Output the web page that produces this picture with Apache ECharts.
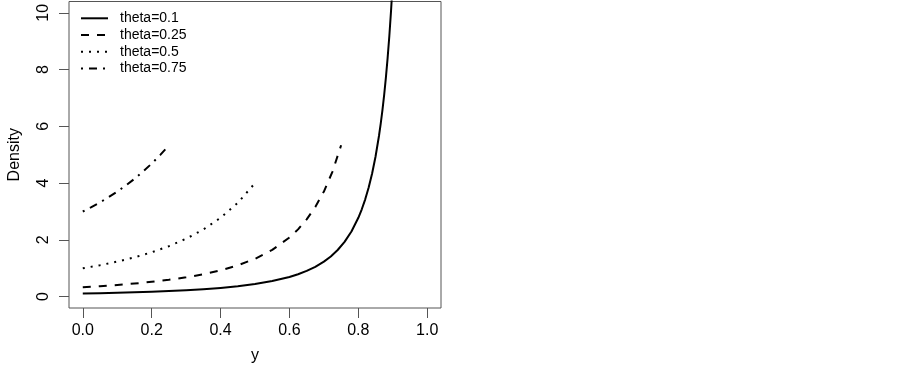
<!DOCTYPE html>
<html>
<head>
<meta charset="utf-8">
<script src="https://cdn.jsdelivr.net/npm/echarts@6/dist/echarts.min.js"></script>
<style>
html,body{margin:0;padding:0;background:#fff;}
#chart{width:903px;height:369px;}
</style>
</head>
<body>
<div id="chart"></div>
<script>
// Data
var seriesNames = ['theta=0.1', 'theta=0.25', 'theta=0.5', 'theta=0.75'];

var y_t01 = [0, 0.05, 0.10, 0.15, 0.20, 0.25, 0.30, 0.35, 0.40, 0.45, 0.50, 0.55, 0.60, 0.625, 0.65, 0.675, 0.70, 0.72, 0.74, 0.76, 0.78, 0.80, 0.81, 0.82, 0.83, 0.84, 0.85, 0.86, 0.865, 0.87, 0.875, 0.88, 0.885, 0.89, 0.895, 0.90];
var d_t01 = [0.111, 0.123, 0.137, 0.154, 0.174, 0.198, 0.227, 0.263, 0.309, 0.367, 0.444, 0.549, 0.694, 0.790, 0.907, 1.052, 1.235, 1.417, 1.644, 1.929, 2.296, 2.778, 3.078, 3.429, 3.845, 4.340, 4.938, 5.669, 6.097, 6.575, 7.111, 7.716, 8.402, 9.183, 10.078, 11.111];

var y_t025 = [0, 0.05, 0.10, 0.15, 0.20, 0.25, 0.30, 0.35, 0.40, 0.45, 0.50, 0.55, 0.60, 0.625, 0.65, 0.675, 0.70, 0.725, 0.75];
var d_t025 = [0.333, 0.369, 0.412, 0.461, 0.521, 0.593, 0.680, 0.789, 0.926, 1.102, 1.333, 1.646, 2.083, 2.370, 2.721, 3.156, 3.704, 4.408, 5.333];

var y_t05 = [0, 0.05, 0.10, 0.15, 0.20, 0.25, 0.30, 0.35, 0.40, 0.45, 0.50];
var d_t05 = [1.000, 1.108, 1.235, 1.384, 1.563, 1.778, 2.041, 2.367, 2.778, 3.306, 4.000];

var y_t075 = [0, 0.025, 0.05, 0.075, 0.10, 0.125, 0.15, 0.175, 0.20, 0.225, 0.25];
var d_t075 = [3.000, 3.156, 3.324, 3.506, 3.704, 3.918, 4.152, 4.408, 4.688, 4.995, 5.333];

var xTicks = [0, 0.2, 0.4, 0.6, 0.8, 1.0];
var yTicks = [0, 2, 4, 6, 8, 10];

function pairs(xs, ys) {
  return xs.map(function (x, i) { return [x, ys[i]]; });
}

var dashes = ['solid', [8, 8], [2, 6], [2, 6, 8, 6]];
var xsAll = [y_t01, y_t025, y_t05, y_t075];
var ysAll = [d_t01, d_t025, d_t05, d_t075];

var FONT = 'Liberation Sans, Arial, Helvetica, sans-serif';
var chart = echarts.init(document.getElementById('chart'), null, {renderer: 'canvas'});

var series = seriesNames.map(function (name, i) {
  return {
    name: name,
    type: 'line',
    data: pairs(xsAll[i], ysAll[i]),
    symbol: 'none',
    smooth: false,
    clip: true,
    color: '#000',
    lineStyle: {color: '#000', width: 2, type: dashes[i], cap: 'butt', join: 'round'}
  };
});

chart.setOption({
  animation: false,
  backgroundColor: '#fff',
  textStyle: {fontFamily: FONT},
  grid: {
    left: 69, top: 1.5, width: 372, height: 308,
    show: true, borderColor: '#555', borderWidth: 1, backgroundColor: 'transparent'
  },
  legend: {
    show: true,
    orient: 'vertical',
    left: 80, top: 11.3,
    padding: 0,
    itemWidth: 27, itemHeight: 14, itemGap: 2.7,
    itemStyle: {color: 'rgba(0,0,0,0)', borderColor: 'rgba(0,0,0,0)', borderWidth: 0, opacity: 0},
    lineStyle: {width: 2},
    textStyle: {fontSize: 14, lineHeight: 14, color: '#000', fontFamily: FONT, padding: [0, 0, 0, 7]},
    data: seriesNames
  },
  xAxis: {
    type: 'value', min: -0.04, max: 1.04,
    name: 'y', nameLocation: 'middle', nameGap: 40,
    nameTextStyle: {fontSize: 16, color: '#000', fontFamily: FONT},
    axisLine: {show: false, onZero: false},
    splitLine: {show: false},
    axisTick: {show: true, inside: false, length: 10, customValues: xTicks, lineStyle: {color: '#555', width: 1}},
    axisLabel: {show: true, customValues: xTicks, margin: 15, fontSize: 16, color: '#000', fontFamily: FONT,
      formatter: function (v) { return Number(v).toFixed(1); }}
  },
  yAxis: {
    type: 'value', min: -0.4, max: 10.4,
    name: 'Density', nameLocation: 'middle', nameGap: 46,
    nameTextStyle: {fontSize: 16, color: '#000', fontFamily: FONT},
    axisLine: {show: false, onZero: false},
    splitLine: {show: false},
    axisTick: {show: true, inside: false, length: 10, customValues: yTicks, lineStyle: {color: '#555', width: 1}},
    axisLabel: {show: true, customValues: yTicks, rotate: 90, margin: 17, fontSize: 16, color: '#000', fontFamily: FONT,
      formatter: function (v) { return String(v); }}
  },
  series: series
});
</script>
</body>
</html>
